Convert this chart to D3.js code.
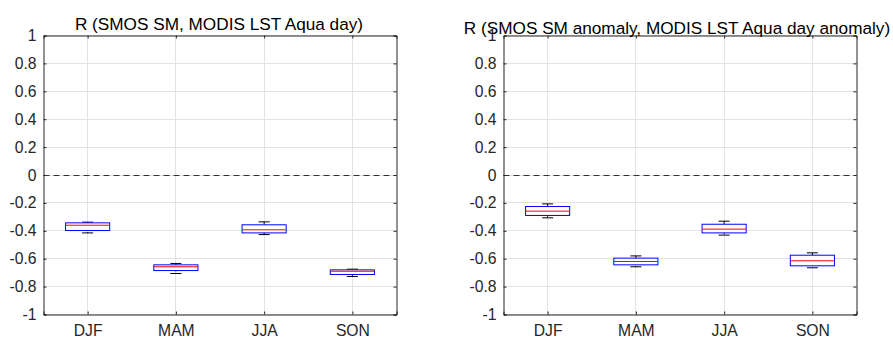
<!DOCTYPE html>
<html>
<head>
<meta charset="utf-8">
<script src="https://cdn.jsdelivr.net/npm/d3@7"></script>
<style>
  body { margin: 0; background: #fff; }
  svg { display: block; font-family: "Liberation Sans", Arial, sans-serif; }
</style>
</head>
<body>
<div id="chart"></div>
<script>
// seasons on the x axis
var seasons = ["DJF", "MAM", "JJA", "SON"];
var yTicks = [1, 0.8, 0.6, 0.4, 0.2, 0, -0.2, -0.4, -0.6, -0.8, -1];

// box stats per season
var rawLow    = [-0.415, -0.706, -0.427, -0.728];
var rawQ1     = [-0.398, -0.685, -0.415, -0.713];
var rawMed    = [-0.360, -0.658, -0.393, -0.690];
var rawQ3     = [-0.343, -0.644, -0.357, -0.680];
var rawHigh   = [-0.338, -0.634, -0.336, -0.675];

var anomLow   = [-0.307, -0.658, -0.431, -0.665];
var anomQ1    = [-0.290, -0.644, -0.415, -0.651];
var anomMed   = [-0.259, -0.620, -0.388, -0.615];
var anomQ3    = [-0.226, -0.596, -0.353, -0.575];
var anomHigh  = [-0.207, -0.580, -0.331, -0.558];

var titles = [
  "R (SMOS SM, MODIS LST Aqua day)",
  "R (SMOS SM anomaly, MODIS LST Aqua day anomaly)"
];

var width = 893, height = 337;
var tickFont = 15.7;
var titleFont = 17.2;

var svg = d3.select("#chart").append("svg")
  .attr("width", width)
  .attr("height", height);

function makeBoxes(low, q1, med, q3, high) {
  return seasons.map(function(s, i) {
    return {season: s, low: low[i], q1: q1[i], med: med[i], q3: q3[i], high: high[i]};
  });
}

var panels = [
  {left: 43.5, right: 396.5, titleX: 219, titleY: 30, title: titles[0], boxes: makeBoxes(rawLow, rawQ1, rawMed, rawQ3, rawHigh)},
  {left: 503.5, right: 856.5, titleX: 677, titleY: 34, title: titles[1], boxes: makeBoxes(anomLow, anomQ1, anomMed, anomQ3, anomHigh)}
];

var plotTop = 35.5, plotBottom = 314.5;
var axisColor = "#262626";
var gridColor = "#e3e3e3";

panels.forEach(function(p) {
  var g = svg.append("g");

  var x = d3.scaleLinear().domain([0.5, 4.5]).range([p.left, p.right]);
  var y = d3.scaleLinear().domain([-1, 1]).range([plotBottom, plotTop]);

  // grid
  g.selectAll(".ygrid").data(yTicks).enter().append("line")
    .attr("x1", p.left).attr("x2", p.right)
    .attr("y1", function(d) { return Math.round(y(d) - 0.5) + 0.5; })
    .attr("y2", function(d) { return Math.round(y(d) - 0.5) + 0.5; })
    .attr("stroke", gridColor);
  g.selectAll(".xgrid").data(seasons).enter().append("line")
    .attr("x1", function(d, i) { return Math.round(x(i + 1) - 0.5) + 0.5; })
    .attr("x2", function(d, i) { return Math.round(x(i + 1) - 0.5) + 0.5; })
    .attr("y1", plotTop).attr("y2", plotBottom)
    .attr("stroke", gridColor);

  // zero line
  g.append("line")
    .attr("x1", p.left).attr("x2", p.right)
    .attr("y1", Math.round(y(0) - 0.5) + 0.5).attr("y2", Math.round(y(0) - 0.5) + 0.5)
    .attr("stroke", "#333")
    .attr("stroke-dasharray", "6,4");

  // axes via d3
  var yAxis = d3.axisLeft(y).tickValues(yTicks).tickSize(-3).tickPadding(7)
    .tickFormat(function(d) { return String(+d.toFixed(1)); });
  var yAxisR = d3.axisRight(y).tickValues(yTicks).tickSize(-3).tickFormat("");
  var xAxis = d3.axisBottom(x).tickValues([1, 2, 3, 4]).tickSize(-3).tickPadding(10)
    .tickFormat(function(d) { return seasons[d - 1]; });
  var xAxisT = d3.axisTop(x).tickValues([1, 2, 3, 4]).tickSize(-3).tickFormat("");

  [
    [yAxis, "translate(" + p.left + ",0)"],
    [yAxisR, "translate(" + p.right + ",0)"],
    [xAxis, "translate(0," + plotBottom + ")"],
    [xAxisT, "translate(0," + plotTop + ")"]
  ].forEach(function(a) {
    var ag = g.append("g").attr("transform", a[1]).call(a[0]);
    ag.select(".domain").attr("stroke", axisColor).attr("stroke-width", 1);
    ag.selectAll(".tick line").attr("stroke", axisColor);
    ag.selectAll("text").attr("fill", axisColor).attr("font-size", tickFont)
      .attr("font-family", "Liberation Sans, Arial, sans-serif");
  });

  // boxes
  var bw = x(1.25) - x(1);
  var cap = bw / 2;
  var box = g.selectAll(".box").data(p.boxes).enter().append("g");

  box.append("line")
    .attr("x1", function(d, i) { return x(i + 1); })
    .attr("x2", function(d, i) { return x(i + 1); })
    .attr("y1", function(d) { return y(d.high); })
    .attr("y2", function(d) { return y(d.low); })
    .attr("stroke", "#000").attr("stroke-dasharray", "3,2");
  box.append("line")
    .attr("x1", function(d, i) { return x(i + 1) - cap / 2; })
    .attr("x2", function(d, i) { return x(i + 1) + cap / 2; })
    .attr("y1", function(d) { return y(d.high); })
    .attr("y2", function(d) { return y(d.high); })
    .attr("stroke", "#000");
  box.append("line")
    .attr("x1", function(d, i) { return x(i + 1) - cap / 2; })
    .attr("x2", function(d, i) { return x(i + 1) + cap / 2; })
    .attr("y1", function(d) { return y(d.low); })
    .attr("y2", function(d) { return y(d.low); })
    .attr("stroke", "#000");
  box.append("rect")
    .attr("x", function(d, i) { return x(i + 1) - bw; })
    .attr("width", bw * 2)
    .attr("y", function(d) { return y(d.q3); })
    .attr("height", function(d) { return y(d.q1) - y(d.q3); })
    .attr("fill", "#fff")
    .attr("stroke", "#0000ff");
  box.append("line")
    .attr("x1", function(d, i) { return x(i + 1) - bw; })
    .attr("x2", function(d, i) { return x(i + 1) + bw; })
    .attr("y1", function(d) { return y(d.med); })
    .attr("y2", function(d) { return y(d.med); })
    .attr("stroke", "#ff0000");

  // title
  svg.append("text")
    .attr("x", p.titleX)
    .attr("y", p.titleY)
    .attr("text-anchor", "middle")
    .attr("font-size", titleFont)
    .attr("fill", "#000")
    .text(p.title);
});
</script>
</body>
</html>
